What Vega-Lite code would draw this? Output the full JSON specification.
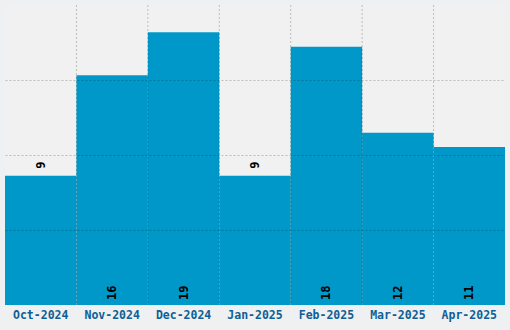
{
  "$schema": "https://vega.github.io/schema/vega-lite/v6.json",
  "width": 500,
  "height": 300,
  "autosize": {"type": "none"},
  "padding": {"left": 5, "top": 5, "right": 5, "bottom": 25},
  "background": "#eef0f1",
  "view": {"fill": "#f1f1f1", "stroke": null},
  "config": {
    "font": "DejaVu Sans Mono"
  },
  "data": {
    "values": [
      {"month": "Oct-2024", "value": 9},
      {"month": "Nov-2024", "value": 16},
      {"month": "Dec-2024", "value": 19},
      {"month": "Jan-2025", "value": 9},
      {"month": "Feb-2025", "value": 18},
      {"month": "Mar-2025", "value": 12},
      {"month": "Apr-2025", "value": 11}
    ]
  },
  "encoding": {
    "x": {
      "field": "month",
      "type": "nominal",
      "sort": null,
      "scale": {"paddingInner": 0, "paddingOuter": 0},
      "axis": {
        "title": null,
        "domain": false,
        "ticks": false,
        "grid": false,
        "labelAngle": 0,
        "labelFont": "DejaVu Sans Mono",
        "labelFontWeight": "bold",
        "labelFontSize": 11.5,
        "labelColor": "#0f5f96",
        "labelPadding": 4
      }
    }
  },
  "layer": [
    {
      "mark": {"type": "bar", "color": "#0098c8"},
      "encoding": {
        "y": {
          "field": "value",
          "type": "quantitative",
          "scale": {"domain": [0, 20.9], "nice": false, "zero": true},
          "axis": {
            "title": null,
            "labels": false,
            "ticks": false,
            "domain": false,
            "grid": true,
            "values": [5.225, 10.45, 15.675],
            "gridColor": "#000000",
            "gridOpacity": 0.22,
            "gridDash": [2, 2],
            "gridWidth": 1,
            "zindex": 1
          }
        }
      }
    },
    {
      "transform": [{"filter": "datum.month != 'Oct-2024'"}],
      "mark": {"type": "rule", "color": "#000000", "opacity": 0.22, "strokeDash": [2, 2], "strokeWidth": 1},
      "encoding": {
        "x": {"field": "month", "type": "nominal", "sort": null, "bandPosition": 0}
      }
    },
    {
      "transform": [{"filter": "datum.value >= 10"}],
      "mark": {"type": "text", "angle": 270, "align": "left", "baseline": "middle", "dx": 5, "font": "DejaVu Sans Mono", "fontWeight": "bold", "fontSize": 12, "color": "#000000"},
      "encoding": {
        "y": {"datum": 0, "type": "quantitative"},
        "text": {"field": "value", "type": "quantitative"}
      }
    },
    {
      "transform": [{"filter": "datum.value < 10"}],
      "mark": {"type": "text", "angle": 270, "align": "left", "baseline": "middle", "dx": 7, "font": "DejaVu Sans Mono", "fontWeight": "bold", "fontSize": 12, "color": "#000000"},
      "encoding": {
        "y": {"field": "value", "type": "quantitative"},
        "text": {"field": "value", "type": "quantitative"}
      }
    }
  ]
}
